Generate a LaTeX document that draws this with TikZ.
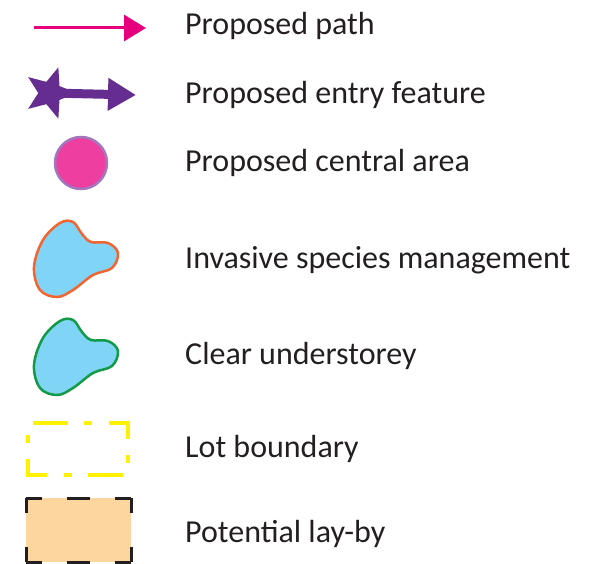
\documentclass[tikz,border=0pt]{standalone}
\usepackage{fontspec}
\setmainfont{Carlito}
\usepackage{tikz}
\usetikzlibrary{shapes.geometric, arrows.meta, positioning, calc}
\usepackage{xcolor}
\definecolor{LegendText}{HTML}{231F20}
\definecolor{PathPink}{HTML}{E6007E}
\definecolor{EntryPurple}{HTML}{662D91}
\definecolor{CentralPink}{HTML}{EE3FA1}
\definecolor{CentralRim}{HTML}{A277BD}
\definecolor{BlobBlue}{HTML}{80D4F5}
\definecolor{InvasiveOrange}{HTML}{F26531}
\definecolor{UnderGreen}{HTML}{129A48}
\definecolor{LotYellow}{HTML}{FFF200}
\definecolor{LaybyPeach}{HTML}{FDD59F}
\tikzset{
    % Text style
    legendtext/.style={
        anchor=base west,
        inner sep=0pt,
        text=LegendText,
        font=\fontsize{32}{38}\selectfont
    },
    % Symbol styles
    patharrow/.style={
        -{Triangle[length=22pt,width=26pt]},
        line width=3pt,
        PathPink
    },
    entrystar/.style={
        star,
        star points=5,
        star point ratio=2.3,
        shape border rotate=-90,
        minimum size=54pt,
        inner sep=0pt,
        fill=EntryPurple
    },
    entryarrow/.style={
        -{Triangle[length=28pt,width=31pt]},
        line width=9pt,
        EntryPurple
    },
    centraldot/.style={
        circle,
        minimum size=52pt,
        inner sep=0pt,
        fill=CentralPink,
        draw=CentralRim,
        line width=2.5pt
    },
    lotedge/.style={
        draw=LotYellow,
        line width=4.5pt,
        dash pattern=on 35pt off 16pt on 8pt off 17pt
    },
    laybyfill/.style={
        fill=LaybyPeach,
        draw=none
    },
    laybyhoriz/.style={
        draw=LegendText,
        line width=3pt,
        dash pattern=on 16pt off 25pt on 23pt off 25pt on 16pt off 10pt
    },
    laybyvert/.style={
        draw=LegendText,
        line width=3pt,
        dash pattern=on 15pt off 34pt on 15pt off 10pt
    },
    % Blob outline
    pics/areablob/.style={
        code={
            \draw[fill=BlobBlue, line width=2.5pt, draw=#1]
                plot[smooth cycle, tension=0.6] coordinates {
                    (73,222) (82,234) (91,242) (108,243) (118,253)
                    (112,268) (93,275) (73,290) (57,297) (40,290)
                    (34,267) (43,240) (60,223)};
        }
    }
}

\begin{document}
\begin{tikzpicture}[x=1pt, y=-1pt]
    \useasboundingbox (0,0) rectangle (605,564);

    % Proposed path
    \coordinate (pathstart) at (34,28);
    \coordinate (pathend) at (146,28);
    \draw[patharrow] (pathstart) -- (pathend);
    \node[legendtext] (pathlabel) at (185,35) {Proposed path};

    % Proposed entry feature
    \node[entrystar] (entry) at (50,93) {};
    \coordinate (entryend) at (136,95);
    \draw[entryarrow] (entry.center) -- (entryend);
    \node[legendtext] (entrylabel) at (185,104) {Proposed entry feature};

    % Proposed central area
    \node[centraldot] (central) at (81,163) {};
    \node[legendtext] (centrallabel) at (185,172) {Proposed central area};

    % Invasive species management
    \pic (invasive) at (0,0) {areablob=InvasiveOrange};
    \node[legendtext] (invasivelabel) at (185,268) {Invasive species management};

    % Clear understorey
    \pic (understorey) at (0,98) {areablob=UnderGreen};
    \node[legendtext] (understoreylabel) at (185,364) {Clear understorey};

    % Lot boundary
    \draw[lotedge] (33,423) -- (128,423) -- (128,475) -- (28,475) -- (28,423) -- (33,423);
    \node[legendtext] (lotlabel) at (185,457) {Lot boundary};

    % Potential lay-by
    \path[laybyfill] (26,498) rectangle (131,562);
    \draw[laybyhoriz] (26,498) -- (131,498);
    \draw[laybyhoriz] (26,562) -- (131,562);
    \draw[laybyvert] (26,498) -- (26,562);
    \draw[laybyvert] (131,498) -- (131,562);
    \node[legendtext] (laybylabel) at (185,542) {Potential lay-by};
\end{tikzpicture}
\end{document}
